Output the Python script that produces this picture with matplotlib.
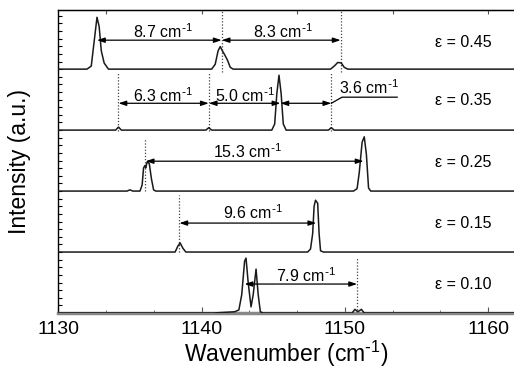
import matplotlib
matplotlib.use("Agg")
import matplotlib.pyplot as plt
import numpy as np

plt.rcParams['font.family'] = ['Liberation Sans', 'DejaVu Sans']
plt.rcParams['mathtext.default'] = 'regular'

# ---- data (wavenumber, relative intensity above each baseline) ----
eps_labels = ["ε = 0.45", "ε = 0.35", "ε = 0.25", "ε = 0.15", "ε = 0.10"]
offsets = [4, 3, 2, 1, 0]

x045 = [1130, 1132.0, 1132.3, 1132.5, 1132.7, 1132.85, 1133.0, 1133.2, 1133.5,
        1140.7, 1140.95, 1141.15, 1141.3, 1141.45, 1141.6, 1141.8, 1142.0, 1142.2,
        1149.0, 1149.3, 1149.5, 1149.75, 1149.95, 1150.2, 1162]
y045 = [0, 0, 0.05, 0.45, 0.85, 0.7, 0.3, 0.1, 0,
        0, 0.08, 0.3, 0.37, 0.3, 0.24, 0.15, 0.03, 0,
        0, 0.06, 0.11, 0.1, 0.03, 0, 0]

x035 = [1130, 1134.0, 1134.2, 1134.4, 1140.3, 1140.5, 1140.7,
        1144.9, 1145.1, 1145.25, 1145.4, 1145.55, 1145.7, 1145.9,
        1148.85, 1149.05, 1149.25, 1162]
y035 = [0, 0, 0.05, 0, 0, 0.04, 0,
        0, 0.1, 0.6, 0.9, 0.6, 0.1, 0,
        0, 0.04, 0, 0]

x025 = [1130, 1134.8, 1135.0, 1135.2, 1135.7, 1135.85, 1135.95, 1136.05, 1136.1,
        1136.2, 1136.35, 1136.5, 1136.65, 1136.8,
        1150.6, 1150.85, 1151.0, 1151.2, 1151.35, 1151.5, 1151.65, 1151.8, 1162]
y025 = [0, 0, 0.02, 0, 0, 0.1, 0.38, 0.42, 0.38,
        0.48, 0.45, 0.2, 0.02, 0,
        0, 0.04, 0.3, 0.8, 0.89, 0.6, 0.05, 0, 0]

x015 = [1130, 1138.15, 1138.35, 1138.5, 1138.7, 1138.9,
        1147.4, 1147.6, 1147.75, 1147.85, 1147.95, 1148.1, 1148.2, 1148.3, 1148.5, 1162]
y015 = [0, 0, 0.1, 0.15, 0.06, 0,
        0, 0.05, 0.3, 0.75, 0.85, 0.8, 0.3, 0.02, 0, 0]

x010 = [1130, 1140.8, 1142.3, 1142.6, 1142.8, 1143.0, 1143.1, 1143.25, 1143.45,
        1143.6, 1143.8, 1143.95, 1144.1, 1144.3,
        1150.5, 1150.7, 1150.9, 1151.15, 1151.35, 1151.55, 1162]
y010 = [0, 0, 0.02, 0.05, 0.3, 0.85, 0.9, 0.5, 0.1,
        0.3, 0.72, 0.3, 0.02, 0,
        0, 0.06, 0.02, 0.06, 0.0, 0, 0]

traces = [(x045, y045), (x035, y035), (x025, y025), (x015, y015), (x010, y010)]

# spacing arrows: (x_start, x_end, y, label, label_x, label_y)
arrows = [
    (1132.7, 1141.4, 4.475, "8.7", 1137.3, 4.61),
    (1141.4, 1149.7, 4.475, "8.3", 1145.7, 4.61),
    (1134.2, 1140.5, 3.44, "6.3", 1137.3, 3.57),
    (1140.5, 1145.5, 3.44, "5.0", 1143.0, 3.57),
    (1136.1, 1151.3, 2.49, "15.3", 1143.2, 2.64),
    (1138.45, 1148.0, 1.475, "9.6", 1143.6, 1.64),
    (1143.0, 1150.85, 0.475, "7.9", 1147.3, 0.62),
]
# separate arrow with leader line
arrow36 = (1145.5, 1149.05, 3.44, "3.6", 1151.7, 3.69)
leader_x = [1149.05, 1149.8, 1153.65]
leader_y = [3.44, 3.54, 3.54]

# dotted guide lines: (x, y_top, y_bottom)
guides = [
    (1141.4, 4.97, 3.95), (1149.7, 4.97, 3.95),
    (1134.2, 3.93, 2.98), (1140.5, 3.93, 2.98), (1149.05, 3.93, 2.98),
    (1136.05, 2.87, 2.0),
    (1138.45, 1.93, 1.0),
    (1150.85, 0.9, 0.0),
]

eps_pos = [(1156.3, 4.44), (1156.3, 3.49), (1156.3, 2.475), (1156.3, 1.46), (1156.3, 0.46)]

SUP = r'$^{\text{-}1}$'

# ---- figure ----
fig = plt.figure(figsize=(5.14, 3.72), dpi=100)
ax = fig.add_axes([58.3 / 514, (372 - 313) / 372, 1 - 58.3 / 514, 303 / 372])
ax.set_xlim(1130, 1161.8)
ax.set_ylim(0, 4.97)

for (xs, ys), off in zip(traces, offsets):
    ax.plot(xs, np.array(ys) + off, color='#1a1a1a', lw=1.1, zorder=3)

for gx, gt, gb in guides:
    ax.plot([gx, gx], [gb, gt], color='#444444', lw=0.9, ls=(0, (1, 1.5)), zorder=2)

akw = dict(arrowstyle='<|-|>,head_length=0.45,head_width=0.15', color='black', lw=0.9,
           shrinkA=0, shrinkB=0)
for x0, x1, y, lab, lx, ly in arrows:
    ax.annotate('', xy=(x1, y), xytext=(x0, y), arrowprops=akw, zorder=4)
    ax.text(lx, ly, lab + ' cm' + SUP, ha='center', va='center', fontsize=11.5, zorder=5)

x0, x1, y, lab, lx, ly = arrow36
ax.annotate('', xy=(x1, y), xytext=(x0, y), arrowprops=akw, zorder=4)
ax.plot(leader_x, leader_y, color='black', lw=0.9)
ax.text(lx, ly, lab + ' cm' + SUP, ha='center', va='center', fontsize=11.5)

for lab, (ex, ey) in zip(eps_labels, eps_pos):
    ax.text(ex, ey, lab, ha='left', va='center', fontsize=11.5)

# axes styling
ax.spines['right'].set_visible(False)
ax.spines['bottom'].set_color('#888888')
ax.spines['bottom'].set_linewidth(2.5)
ax.spines['top'].set_linewidth(1.0)
ax.spines['left'].set_linewidth(1.0)

ax.set_xticks([1130, 1140, 1150, 1160])
ax.set_xticks(np.arange(1130, 1162, 10 / 3), minor=True)
ax.tick_params(axis='x', which='major', direction='in', length=4, labelsize=14, pad=6, color='#555555')
ax.tick_params(axis='x', which='minor', direction='in', length=2.5, color='#555555')
ax.set_yticks(np.arange(0, 4.97, 0.125))
ax.tick_params(axis='y', which='major', direction='in', length=3, labelleft=False, width=0.8)

sec = ax.secondary_xaxis('top')
sec.set_xticks([1133.33, 1140, 1146.67, 1153.33, 1160])
sec.tick_params(direction='in', length=3, labeltop=False, color='#555555')

ax.set_xlabel('Wavenumber (cm' + SUP + ')', fontsize=16.5, labelpad=0)
ax.set_ylabel('Intensity (a.u.)', fontsize=16.5, labelpad=20)

fig.savefig('out.png', dpi=100)
